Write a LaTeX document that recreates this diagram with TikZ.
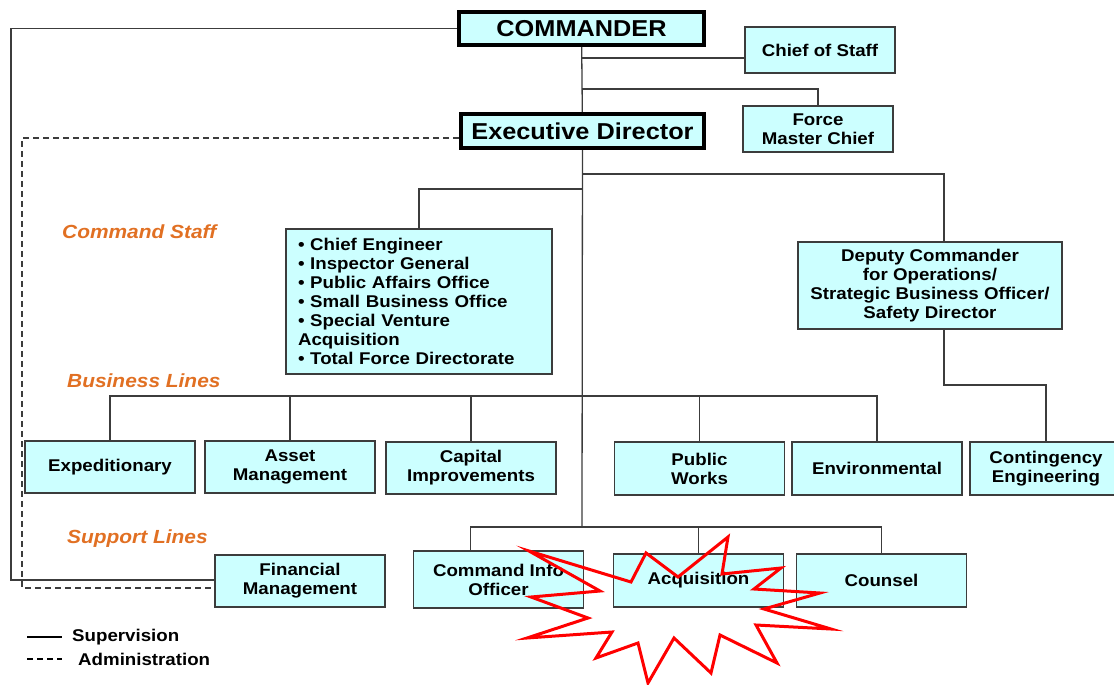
\documentclass[tikz,border=0pt]{standalone}
\usepackage{fontspec}
\setmainfont{Liberation Sans}[FakeStretch=1.1]
\usetikzlibrary{positioning}
\definecolor{boxcyan}{RGB}{204,255,255}
\definecolor{edgegray}{RGB}{60,60,60}
\definecolor{labelorange}{RGB}{225,112,35}
\tikzset{
  unit/.style={draw=edgegray, fill=boxcyan, line width=1.3pt, align=center, inner sep=0pt,
    font=\fontsize{17}{19}\selectfont\bfseries, minimum width=170pt, minimum height=52pt},
  head/.style={unit, draw=black, line width=4pt, font=\fontsize{23}{26}\selectfont\bfseries},
  tier/.style={font=\fontsize{19}{22}\selectfont\bfseries\itshape, text=labelorange, anchor=west, inner sep=0pt},
  key/.style={font=\fontsize{17}{19}\selectfont\bfseries, anchor=west, inner sep=0pt},
  wire/.style={draw=edgegray, line width=1.3pt},
  admin/.style={wire, dash pattern=on 6pt off 4pt},
  burst/.style={draw=red, line width=3pt, line join=miter}
}

\begin{document}
\begin{tikzpicture}[x=1pt,y=-1pt]
\useasboundingbox (0,0) rectangle (1114,685);

% command group
\node[head, minimum width=245pt, minimum height=33pt] (cmd) at (581.5,28.5) {COMMANDER};
\node[unit, minimum width=150pt, minimum height=46pt] (cos) at (820,50) {Chief of Staff};
\node[unit, minimum width=150pt, minimum height=46pt] (fmc) at (818,129) {Force\\Master Chief};
\node[head, minimum width=243pt, minimum height=34pt] (ed) at (582.5,131) {Executive Director};

\node[unit, align=left, text width=242pt, minimum width=266pt, minimum height=145pt] (staff) at (419,301.5)
  {• Chief Engineer\\• Inspector General\\• Public Affairs Office\\• Small Business Office\\• Special Venture\\Acquisition\\• Total Force Directorate};
\node[unit, minimum width=264pt, minimum height=87pt] (dep) at (930,285.5)
  {Deputy Commander\\for Operations/\\Strategic Business Officer/\\Safety Director};

% business lines
\node[unit] (exp) at (110,467) {Expeditionary};
\node[unit] (asset) at (290,467) {Asset\\Management};
\node[unit] (cap) at (471,468) {Capital\\Improvements};
\node[unit, minimum height=53pt] (pw) at (699.5,468.5) {Public\\Works};
\node[unit, minimum height=53pt] (env) at (877,468.5) {Environmental};
\node[unit, minimum width=152pt, minimum height=53pt] (cont) at (1046,468.5) {Contingency\\Engineering};

% support lines
\node[unit] (fin) at (300,581) {Financial\\Management};
\node[unit, minimum height=57pt] (cio) at (498.5,579.5) {Command Info\\Officer};
\node[unit, minimum height=53pt] (acq) at (698.5,580.5) {Acquisition};
\node[unit, minimum height=53pt] (coun) at (881.5,580.5) {Counsel};

\node[tier] (lstaff) at (62,232) {Command Staff};
\node[tier] (lbiz) at (67,381) {Business Lines};
\node[tier] (lsup) at (67,539) {Support Lines};

% junctions on the trunk
\coordinate (cosj) at (582,58);
\coordinate (fmcj) at (582,89);
\coordinate (depj) at (582,174);
\coordinate (staffj) at (582,189);
\coordinate (bizj) at (582,396);
\coordinate (supj) at (582,527);
\coordinate (contj) at (1046,385);
\coordinate (sv) at (11,580);
\coordinate (ad) at (22,588);

\draw[wire] (cmd) -- (ed);
\draw[wire] (ed) -- (supj);
\draw[wire] (cosj) -- (cosj -| cos.west);
\draw[wire] (fmcj) -| (fmc);
\draw[wire] (staffj) -| (staff);
\draw[wire] (depj) -| ([xshift=14pt]dep.north);
\draw[wire] ([xshift=14pt]dep.south) |- (contj) -- (cont);
\draw[wire] (exp) |- (bizj) -| (env);
\foreach \n in {asset,cap,pw}
  \draw[wire] (\n) -- (\n |- bizj);
\draw[wire] ([xshift=-28pt]cio.north) |- (supj) -| (coun);
\draw[wire] (acq) -- (acq |- supj);
\draw[wire] (cmd.west) -| (sv) -- (sv -| fin.west);
\draw[admin] ([yshift=-7pt]ed.west) -| (ad) -- (ad -| fin.west);

% legend
\node[key] (supv) at (72,637) {Supervision};
\node[key] (adm) at (78,659) {Administration};
\draw[wire, draw=black] ([xshift=-45pt]supv.west) -- ([xshift=-10pt]supv.west);
\draw[admin, draw=black] ([xshift=-51pt]adm.west) -- ([xshift=-16pt]adm.west);

% red starburst
\draw[burst] (529,551) -- (631,582) -- (646,553) -- (678,577) -- (728,537) -- (722,574)
  -- (781,568) -- (754,589) -- (820,593) -- (764,609) -- (831,629) -- (756,625)
  -- (777,663) -- (720,635) -- (711,673) -- (674,638) -- (648,683) -- (638,643)
  -- (596,658) -- (612,632) -- (527,638) -- (588,618) -- (531,597) -- (600,591) -- cycle;
\end{tikzpicture}
\end{document}
